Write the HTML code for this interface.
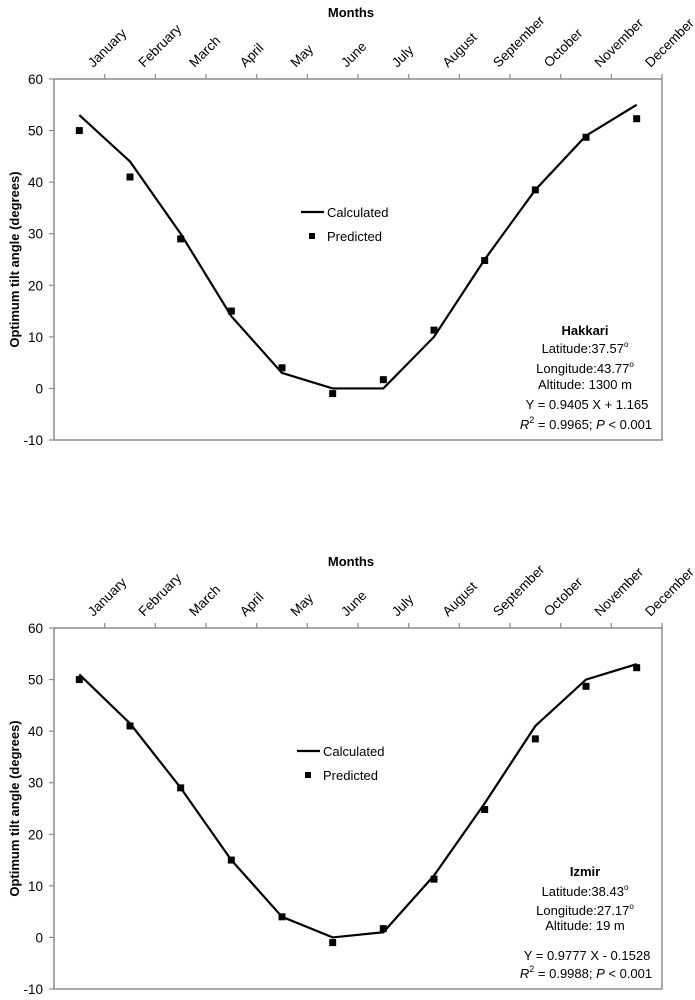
<!DOCTYPE html>
<html><head><meta charset="utf-8"><style>
body{margin:0;background:#fff;}
svg{display:block;font-family:"Liberation Sans",Arial,sans-serif;}
</style></head><body>
<svg id="chart" width="695" height="1000" viewBox="0 0 695 1000" xmlns="http://www.w3.org/2000/svg"></svg>
<script>
const months = ["January","February","March","April","May","June","July","August","September","October","November","December"];
const yTicks = [60,50,40,30,20,10,0,-10];
const hakkariCalculated = [53,44,30,14,3,0,0,10,25,38.5,49,55];
const hakkariPredicted = [50,41,29,15,4,-1,1.7,11.3,24.8,38.5,48.7,52.3];
const izmirCalculated = [51,41.5,29,15,4,0,1,12,26,41,50,53];
const izmirPredicted = [50,41,29,15,4,-1,1.7,11.3,24.8,38.5,48.7,52.3];
const hakkariInfo = ["Latitude:37.57","Longitude:43.77","Altitude: 1300 m","Y = 0.9405 X + 1.165","0.9965"];
const izmirInfo = ["Latitude:38.43","Longitude:27.17","Altitude: 19 m","Y = 0.9777 X - 0.1528","0.9988"];

const NS="http://www.w3.org/2000/svg";
const svg=document.getElementById('chart');
function mk(tag,attrs,parent){const e=document.createElementNS(NS,tag);for(const k in attrs)e.setAttribute(k,attrs[k]);(parent||svg).appendChild(e);return e;}

function drawPanel(off, name, calc, pred, info, legY, legX, annY, prefix){
  const g=mk('g',{});
  
  
  const L=54,R=662,T=79+off,B=440+off;
  const yMin=-10,yMax=60;
  const y=v=>B-(v-yMin)/(yMax-yMin)*(B-T);
  const cw=(R-L)/months.length;
  const x=i=>L+cw*(i+0.5);
  const frame=mk('rect',{x:L,y:T,width:R-L,height:B-T,fill:'none',stroke:'#8c8c8c','stroke-width':1.5},g);
  
  
  yTicks.forEach(v=>{
    mk('line',{x1:L-5,x2:L,y1:y(v),y2:y(v),stroke:'#8c8c8c','stroke-width':1.2},g);
    const t=mk('text',{x:L-11,y:y(v)+5,'text-anchor':'end','font-size':13.5,fill:'#000'},g);
    t.textContent=v;
    
    
  });
  months.forEach((m,i)=>{
    const tx=L+cw*(i+1);
    mk('line',{x1:tx,x2:tx,y1:T-5,y2:T,stroke:'#8c8c8c','stroke-width':1.2},g);
    const cx=x(i)+14, cy=T-11;
    const t=mk('text',{x:cx,y:cy,'font-size':13.5,transform:`rotate(-45 ${cx} ${cy})`},g);
    t.textContent=m;
    
    
  });
  const mt=mk('text',{x:351,y:17+off,'text-anchor':'middle','font-size':13,'font-weight':'bold'},g);
  mt.textContent='Months';
  
  
  const yc=(T+B)/2;
  const yt=mk('text',{x:19,y:yc,'text-anchor':'middle','font-size':13,'font-weight':'bold',transform:`rotate(-90 19 ${yc})`},g);
  yt.textContent='Optimum tilt angle (degrees)';
  
  
  const line=mk('polyline',{points:calc.map((v,i)=>x(i)+','+y(v)).join(' '),fill:'none',stroke:'#000','stroke-width':2.2},g);
  
  
  pred.forEach((v,i)=>{
    const p=mk('rect',{x:x(i)-3.5,y:y(v)-3.5,width:7,height:7,fill:'#000'},g);
    
    
  });
  const lg=mk('g',{},g);
  
  
  mk('line',{x1:legX,x2:legX+23,y1:legY,y2:legY,stroke:'#000','stroke-width':2.2},lg);
  const l1=mk('text',{x:legX+26,y:legY+5,'font-size':13},lg); l1.textContent='Calculated';
  mk('rect',{x:legX+8,y:legY+21,width:6,height:6,fill:'#000'},lg);
  const l2=mk('text',{x:legX+26,y:legY+29,'font-size':13},lg); l2.textContent='Predicted';
  const ag=mk('g',{'text-anchor':'middle','font-size':13},g);
  
  
  const cx=585;
  const h=mk('text',{x:cx,y:annY[0]+5,'font-weight':'bold'},ag); h.textContent=name;
  for(let k=0;k<3;k++){
    const t=mk('text',{x:cx,y:annY[k+1]+5},ag);
    t.textContent=info[k];
    if(k<2){const s=mk('tspan',{dy:-6,'font-size':8},t);s.textContent='o';}
  }
  const eq=mk('text',{x:cx+2,y:annY[4]+5},ag); eq.textContent=info[3];
  const r=mk('text',{x:cx+1,y:annY[5]+5},ag);
  const a=mk('tspan',{'font-style':'italic'},r); a.textContent='R';
  const b=mk('tspan',{dy:-6,'font-size':9},r); b.textContent='2';
  const c=mk('tspan',{dy:6},r); c.textContent=' = '+info[4]+'; ';
  const d=mk('tspan',{'font-style':'italic'},r); d.textContent='P';
  const e=mk('tspan',{},r); e.textContent=' < 0.001';
}
drawPanel(0,'Hakkari',hakkariCalculated,hakkariPredicted,hakkariInfo,212,301,[330,348,368,384,404,424],'hakkari');
drawPanel(549,'Izmir',izmirCalculated,izmirPredicted,izmirInfo,751,297,[871,891,910,925,955,973],'izmir');
</script>
</body></html>
